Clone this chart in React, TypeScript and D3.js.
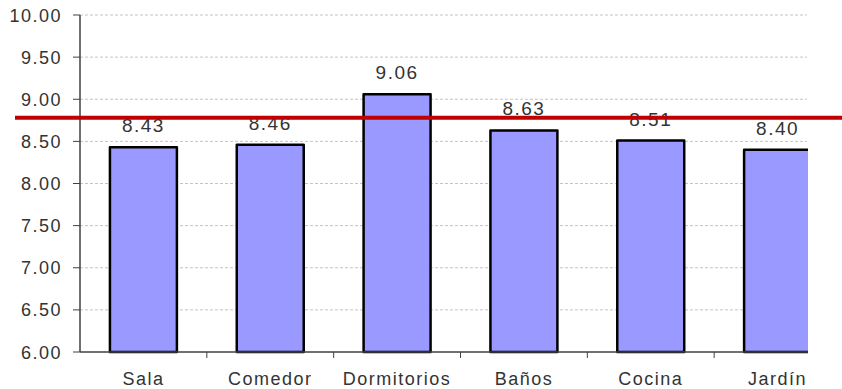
import React from "react";
import * as d3 from "d3";

const categories = ["Sala", "Comedor", "Dormitorios", "Baños", "Cocina", "Jardín"];
const values = [8.43, 8.46, 9.06, 8.63, 8.51, 8.40];
const yTicks = [6, 6.5, 7, 7.5, 8, 8.5, 9, 9.5, 10];
const referenceValue = [8.78];

export default function App() {
  const W = 842, H = 389;
  const left = 80, plotRight = 841, clipRight = 808;
  const top = 15, bottom = 352;
  const y = d3.scaleLinear().domain([6, 10]).range([bottom, top]);
  const x = d3.scaleBand<string>().domain(categories).range([left, plotRight]).paddingInner(0).paddingOuter(0);
  const bw = x.bandwidth() * 0.528;
  const font = "'Liberation Sans', Arial, sans-serif";
  const boundaries = categories.slice(1).map((c) => x(c)!);
  const textColor = "#333";
  return (
    <svg width={W} height={H} style={{ position: "absolute", left: 0, top: 0, background: "#fff" }}>
      <defs>
        <clipPath id="plotclip">
          <rect x={0} y={0} width={clipRight} height={H} />
        </clipPath>
      </defs>
      <g clipPath="url(#plotclip)">
        {yTicks.filter((t) => t > 6).map((t) => (
          <line key={t} x1={left} x2={clipRight - 1} y1={y(t)} y2={y(t)} stroke="#c4c4c4" strokeWidth={1} strokeDasharray="3,2" />
        ))}
        {categories.map((c, i) => {
          const cx = x(c)! + x.bandwidth() / 2;
          return (
            <rect key={c} x={cx - bw / 2} y={y(values[i])} width={bw} height={bottom - y(values[i])}
              fill="#9999ff" stroke="#000" strokeWidth={2.5} strokeLinejoin="round" />
          );
        })}
        <line x1={left} x2={clipRight} y1={bottom} y2={bottom} stroke="#404040" strokeWidth={1.5} />
        {boundaries.map((b, i) => (
          <line key={i} x1={b} x2={b} y1={bottom} y2={bottom + 6} stroke="#404040" strokeWidth={1} />
        ))}
        {categories.map((c, i) => {
          const cx = x(c)! + x.bandwidth() / 2;
          return (
            <text key={c} x={cx} y={y(values[i]) - 15} textAnchor="middle" fontFamily={font} fontSize={19}
              letterSpacing={1.5} fill={textColor}>{values[i].toFixed(2)}</text>
          );
        })}
        {categories.map((c) => (
          <text key={c} x={x(c)! + x.bandwidth() / 2} y={385} textAnchor="middle" fontFamily={font} fontSize={18}
            letterSpacing={1.5} fill={textColor}>{c}</text>
        ))}
      </g>
      <line x1={left} x2={left} y1={top} y2={bottom} stroke="#404040" strokeWidth={1.5} />
      {yTicks.map((t) => (
        <g key={t}>
          <line x1={left - 7} x2={left} y1={y(t)} y2={y(t)} stroke="#404040" strokeWidth={1} />
          <text x={62} y={y(t) + 6.5} textAnchor="end" fontFamily={font} fontSize={18} letterSpacing={1.5} fill={textColor}>
            {t.toFixed(2)}
          </text>
        </g>
      ))}
      {referenceValue.map((v, i) => (
        <line key={i} x1={15} x2={W} y1={y(v)} y2={y(v)} stroke="#c00000" strokeWidth={4} />
      ))}
    </svg>
  );
}
